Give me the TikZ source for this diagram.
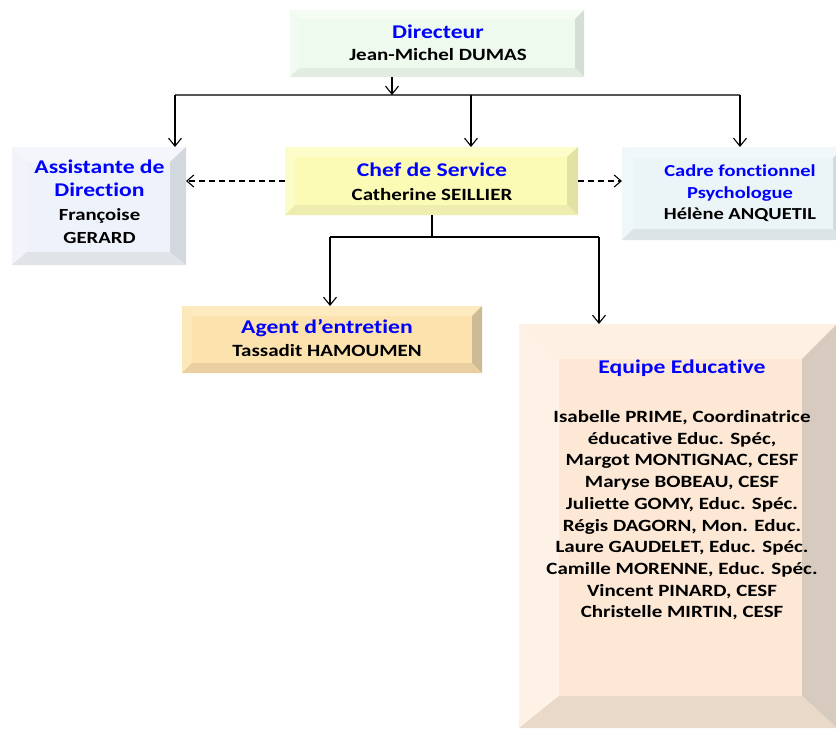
\documentclass[tikz,border=0pt]{standalone}
\usepackage{fontspec}
\setmainfont{Carlito}[FakeStretch=1.22, RawFeature={-liga;-clig}]
\usetikzlibrary{calc,arrows.meta}
\definecolor{ttl}{RGB}{0,0,255}
% Directeur
\definecolor{dirF}{RGB}{239,250,238}\definecolor{dirT}{RGB}{245,252,244}\definecolor{dirL}{RGB}{242,251,241}\definecolor{dirR}{RGB}{213,222,212}\definecolor{dirB}{RGB}{226,236,225}
% Assistante
\definecolor{asF}{RGB}{238,242,250}\definecolor{asT}{RGB}{244,246,251}\definecolor{asL}{RGB}{242,244,250}\definecolor{asR}{RGB}{211,215,222}\definecolor{asB}{RGB}{224,227,232}
% Chef
\definecolor{chF}{RGB}{251,251,181}\definecolor{chT}{RGB}{253,253,204}\definecolor{chL}{RGB}{252,252,198}\definecolor{chR}{RGB}{226,226,164}\definecolor{chB}{RGB}{237,237,175}
% Cadre
\definecolor{caF}{RGB}{235,244,247}\definecolor{caT}{RGB}{242,248,250}\definecolor{caL}{RGB}{240,247,249}\definecolor{caR}{RGB}{211,218,221}\definecolor{caB}{RGB}{221,228,231}
% Agent
\definecolor{agF}{RGB}{252,227,174}\definecolor{agT}{RGB}{253,234,190}\definecolor{agL}{RGB}{253,232,185}\definecolor{agR}{RGB}{204,187,150}\definecolor{agB}{RGB}{234,208,160}
% Equipe
\definecolor{eqF}{RGB}{253,232,213}\definecolor{eqT}{RGB}{254,240,227}\definecolor{eqL}{RGB}{254,241,229}\definecolor{eqR}{RGB}{215,203,191}\definecolor{eqB}{RGB}{233,217,200}
\definecolor{busgray}{RGB}{85,85,85}
\newcommand\bevelbox[9]{%
  \fill[#6] (#1.north west) -- (#1.north east) -- ($(#1.north east)+(-#4,#3)$) -- ($(#1.north west)+(#2,#3)$) -- cycle;
  \fill[#7] (#1.north west) -- ($(#1.north west)+(#2,#3)$) -- ($(#1.south west)+(#2,-#5)$) -- (#1.south west) -- cycle;
  \fill[#8] (#1.north east) -- (#1.south east) -- ($(#1.south east)+(-#4,-#5)$) -- ($(#1.north east)+(-#4,#3)$) -- cycle;
  \fill[#9] (#1.south west) -- (#1.south east) -- ($(#1.south east)+(-#4,-#5)$) -- ($(#1.south west)+(#2,-#5)$) -- cycle;
}
\newcommand\ttlA{\color{ttl}\fontsize{19.4}{22}\selectfont}
\tikzset{
  box/.style={rectangle, inner sep=0pt, outer sep=0pt, draw=none},
  txt/.style={align=center, inner sep=0pt, font=\bfseries\fontsize{17.2}{22}\selectfont},
  arr/.style={draw=black, line width=1.1pt, -{Straight Barb[length=8pt,width=13pt,line width=1.1pt]}},
  darr/.style={draw=black, line width=1.1pt, dash pattern=on 6pt off 4pt, -{Straight Barb[length=7pt,width=12pt,line width=1.1pt]}},
  bus/.style={draw=busgray, line width=1.2pt},
  bus2/.style={draw=black, line width=1.1pt},
}
\begin{document}
\begin{tikzpicture}[x=1pt,y=-1pt]
\useasboundingbox (0,0) rectangle (836,729);
\fill[white] (0,0) rectangle (836,729);
% boxes
\node[box, fill=dirF, minimum width=294pt, minimum height=67pt] (dir) at (437,43.5) {};
\bevelbox{dir}{9}{9}{9}{9}{dirT}{dirL}{dirR}{dirB}
\node[box, fill=asF, minimum width=174pt, minimum height=118pt] (asst) at (99,206) {};
\bevelbox{asst}{15}{15}{16}{13}{asT}{asL}{asR}{asB}
\node[box, fill=chF, minimum width=293pt, minimum height=68pt] (chef) at (431.5,181) {};
\bevelbox{chef}{10}{10}{11}{10}{chT}{chL}{chR}{chB}
\node[box, fill=caF, minimum width=222pt, minimum height=93pt] (cadre) at (733,193.5) {};
\bevelbox{cadre}{11}{11}{11}{11}{caT}{caL}{caR}{caB}
\node[box, fill=agF, minimum width=300pt, minimum height=67pt] (agent) at (332,339.5) {};
\bevelbox{agent}{10}{10}{10}{10}{agT}{agL}{agR}{agB}
\node[box, fill=eqF, minimum width=318pt, minimum height=404pt] (equipe) at (678,526) {};
\bevelbox{equipe}{40}{35}{35}{32}{eqT}{eqL}{eqR}{eqB}
% texts
\node[txt] (dirTxt) at (438,43) {{\ttlA Directeur}\\Jean-Michel DUMAS};
\node[txt, font=\bfseries\fontsize{17.2}{24}\selectfont] (chefTxt) at (432,182) {{\ttlA Chef de Service}\\Catherine SEILLIER};
\node[txt, font=\bfseries\fontsize{17}{23.5}\selectfont] (asstTxt) at (99.5,201.5) {{\ttlA Assistante de}\\{\ttlA Direction}\\Françoise\\GERARD};
\node[txt, font=\bfseries\fontsize{16.8}{21.5}\selectfont] (cadreTxt) at (740,193.5) {{\color{ttl}Cadre fonctionnel}\\{\color{ttl}Psychologue}\\Hélène ANQUETIL};
\node[txt, font=\bfseries\fontsize{17.2}{23}\selectfont] (agentTxt) at (327,337.5) {{\ttlA Agent d’entretien}\\Tassadit HAMOUMEN};
\node[txt, font=\bfseries\fontsize{17.2}{21.7}\selectfont] (eqTxt) at (682,490) {{\ttlA Equipe Educative}\\[27.3pt]
Isabelle PRIME, Coordinatrice\\
éducative Educ. Spéc,\\
Margot MONTIGNAC, CESF\\
Maryse BOBEAU, CESF\\
Juliette GOMY, Educ. Spéc.\\
Régis DAGORN, Mon. Educ.\\
Laure GAUDELET, Educ. Spéc.\\
Camille MORENNE, Educ. Spéc.\\
Vincent PINARD, CESF\\
Christelle MIRTIN, CESF};
% connectors
\coordinate (busD) at (392,95);
\coordinate (busL) at (175,95);
\coordinate (busM) at (471,95);
\coordinate (busR) at (740,95);
\draw[bus] (busL) -- (busR);
\draw[arr] (dir.south -| busD) -- (busD);
\draw[arr] (busL) -- (asst.north -| busL);
\draw[arr] (busM) -- (chef.north -| busM);
\draw[arr] (busR) -- (cadre.north -| busR);
\draw[darr] (chef.west) -- (asst.east |- chef.west);
\draw[darr] (chef.east) -- (cadre.west |- chef.east);
\coordinate (c2) at (432,237);
\coordinate (c2L) at (330,237);
\coordinate (c2R) at (599,237);
\draw[bus2] (chef.south -| c2) -- (c2);
\draw[bus2] (c2L) -- (c2R);
\draw[arr] (c2L) -- (agent.north -| c2L);
\draw[arr] (c2R) -- (equipe.north -| c2R);
\end{tikzpicture}
\end{document}
